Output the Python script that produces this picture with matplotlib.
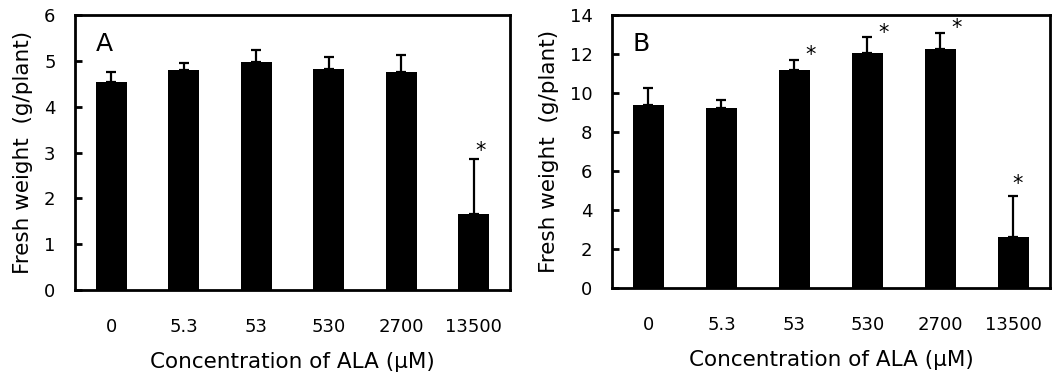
import matplotlib
matplotlib.use("Agg")
import matplotlib.pyplot as plt
import numpy as np

plt.rcParams['font.family'] = ['DejaVu Sans']

conc_labels = ["0", "5.3", "53", "530", "2700", "13500"]

weight_a = [4.55, 4.80, 4.97, 4.83, 4.75, 1.65]
err_a = [0.21, 0.16, 0.26, 0.26, 0.37, 1.20]
star_a = [False, False, False, False, False, True]

weight_b = [9.40, 9.25, 11.20, 12.05, 12.25, 2.60]
err_b = [0.85, 0.40, 0.50, 0.80, 0.85, 2.10]
star_b = [False, False, True, True, True, True]


def draw_panel(ax, values, errors, stars, ymax, letter, star_dx, star_dy):
    x = np.arange(len(conc_labels))
    ax.bar(x, values, width=0.43, color="black")
    ax.errorbar(x, values, yerr=[np.zeros(len(errors)), errors], fmt="none",
                ecolor="black", elinewidth=1.6, capsize=3.6, capthick=1.6)
    for xi, v, e, s in zip(x, values, errors, stars):
        if s:
            ax.text(xi + star_dx, v + e + star_dy, "*", ha="center", va="center",
                    fontsize=15)
    ax.set_xlim(-0.5, len(conc_labels) - 0.5)
    ax.set_ylim(0, ymax)
    ax.set_xticks(x)
    ax.set_xticklabels(conc_labels)
    ax.tick_params(axis="x", length=0, pad=20, labelsize=13)
    ax.tick_params(axis="y", direction="in", length=5, width=2, labelsize=13, pad=14)
    for sp in ax.spines.values():
        sp.set_linewidth(2)
    ax.set_xlabel("Concentration of ALA (\u03bcM)", fontsize=15.5, labelpad=12)
    ax.set_ylabel("Fresh weight  (g/plant)", fontsize=15.5, labelpad=8)
    ax.text(0.048, 0.895, letter, transform=ax.transAxes, fontsize=18, va="center")


fig = plt.figure(figsize=(10.54, 3.85), dpi=100)
ax1 = fig.add_axes([0.0712, 0.2468, 0.4127, 0.714])
ax2 = fig.add_axes([0.5806, 0.252, 0.4156, 0.709])

draw_panel(ax1, weight_a, err_a, star_a, 6, "A", 0.1, 0.18)
ax1.set_yticks(range(0, 7))
draw_panel(ax2, weight_b, err_b, star_b, 14, "B", 0.22, 0.25)
ax2.set_yticks(range(0, 15, 2))
# last asterisk in B sits above the cap
ax2.texts[3].set_position((5.05, weight_b[5] + err_b[5] + 0.65))

fig.savefig("out.png", dpi=100)
